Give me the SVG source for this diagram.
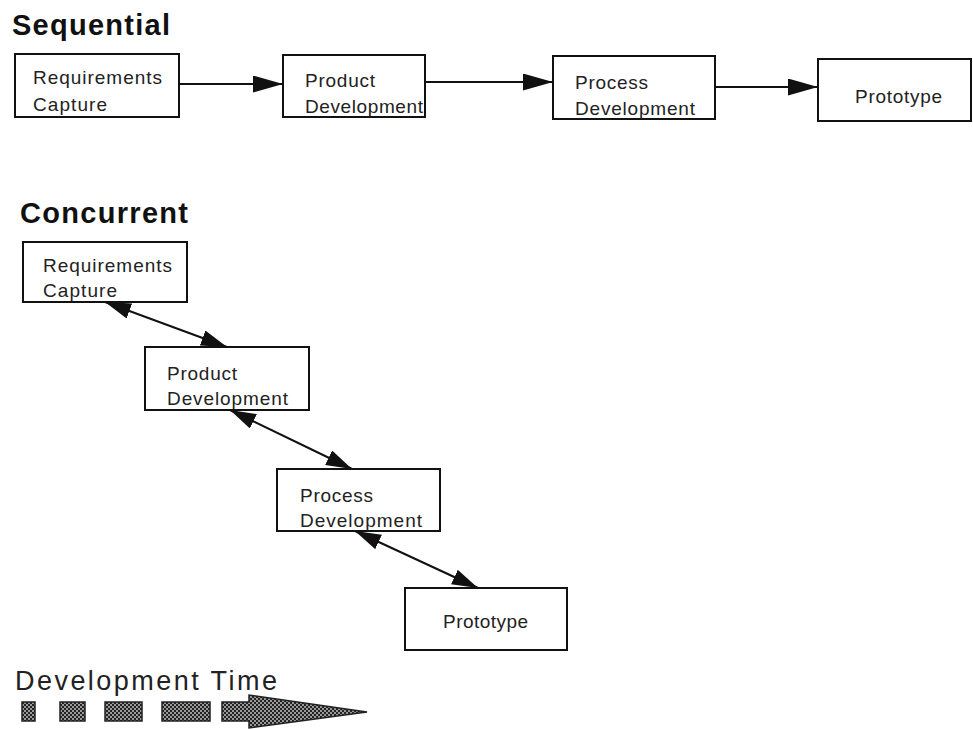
<svg xmlns="http://www.w3.org/2000/svg" width="973" height="729" viewBox="0 0 973 729">
<style>
.box{fill:#fff;stroke:#111;stroke-width:2}
.t{font-family:"Liberation Sans",Arial,sans-serif;font-size:19px;fill:#222}
.h{font-family:"Liberation Sans",Arial,sans-serif;font-size:29px;font-weight:bold;fill:#111}
.dt{font-family:"Liberation Sans",Arial,sans-serif;font-size:27px;fill:#222}
.ln{stroke:#111;stroke-width:2;fill:none}
.seq{marker-end:url(#ah)}
.con{marker-start:url(#ah2);marker-end:url(#ah2)}
.bar{fill:url(#hatch);stroke:#222;stroke-width:1.5}
</style>
<defs>
<marker id="ah" markerUnits="userSpaceOnUse" viewBox="0 0 30 17" refX="30" refY="8.5" markerWidth="30" markerHeight="17" orient="auto">
<path d="M0,0 L30,8.5 L0,17 z" fill="#111"/>
</marker>
<marker id="ah2" markerUnits="userSpaceOnUse" viewBox="0 0 26 16" refX="26" refY="8" markerWidth="26" markerHeight="16" orient="auto-start-reverse">
<path d="M0,0 L26,8 L0,16 z" fill="#111"/>
</marker>
<pattern id="hatch" patternUnits="userSpaceOnUse" width="4" height="4">
<rect width="4" height="4" fill="#999"/>
<rect x="0" y="0" width="2" height="2" fill="#222"/>
<rect x="2" y="2" width="2" height="2" fill="#222"/>
</pattern>
</defs>

<text class="h" x="12" y="35" textLength="158" lengthAdjust="spacing">Sequential</text>
<text class="h" x="20" y="223" textLength="168" lengthAdjust="spacing">Concurrent</text>

<g id="connectors">
<line class="ln seq" x1="179" y1="84" x2="283" y2="84"/>
<line class="ln seq" x1="425" y1="82" x2="553" y2="82"/>
<line class="ln seq" x1="715" y1="87" x2="818" y2="87"/>
<line class="ln con" x1="105" y1="302" x2="227" y2="347"/>
<line class="ln con" x1="230" y1="410" x2="352" y2="469"/>
<line class="ln con" x1="355" y1="531" x2="478" y2="588"/>
</g>

<g id="seq-req">
<rect class="box" x="15" y="54" width="164" height="63"/>
<text class="t" x="33" y="84" textLength="129" lengthAdjust="spacing">Requirements</text>
<text class="t" x="33" y="111" textLength="74" lengthAdjust="spacing">Capture</text>
</g>
<g id="seq-product">
<rect class="box" x="283" y="55" width="142" height="62"/>
<text class="t" x="305" y="87" textLength="70" lengthAdjust="spacing">Product</text>
<text class="t" x="305" y="113" textLength="118" lengthAdjust="spacing">Development</text>
</g>
<g id="seq-process">
<rect class="box" x="553" y="56" width="162" height="63"/>
<text class="t" x="575" y="89" textLength="73" lengthAdjust="spacing">Process</text>
<text class="t" x="575" y="115" textLength="120" lengthAdjust="spacing">Development</text>
</g>
<g id="seq-prototype">
<rect class="box" x="818" y="59" width="153" height="62"/>
<text class="t" x="855" y="103" textLength="87" lengthAdjust="spacing">Prototype</text>
</g>

<g id="con-req">
<rect class="box" x="23" y="242" width="164" height="60"/>
<text class="t" x="43" y="272" textLength="129" lengthAdjust="spacing">Requirements</text>
<text class="t" x="43" y="297" textLength="74" lengthAdjust="spacing">Capture</text>
</g>
<g id="con-product">
<rect class="box" x="145" y="347" width="164" height="63"/>
<text class="t" x="167" y="380" textLength="70" lengthAdjust="spacing">Product</text>
<text class="t" x="167" y="405" textLength="121" lengthAdjust="spacing">Development</text>
</g>
<g id="con-process">
<rect class="box" x="277" y="469" width="163" height="62"/>
<text class="t" x="300" y="502" textLength="73" lengthAdjust="spacing">Process</text>
<text class="t" x="300" y="527" textLength="122" lengthAdjust="spacing">Development</text>
</g>
<g id="con-prototype">
<rect class="box" x="405" y="588" width="162" height="62"/>
<text class="t" x="443" y="628" textLength="85" lengthAdjust="spacing">Prototype</text>
</g>

<g id="timeline">
<text class="dt" x="15" y="690" textLength="262" lengthAdjust="spacing">Development Time</text>
<rect class="bar" x="22" y="702" width="13" height="19"/>
<rect class="bar" x="60" y="702" width="25" height="19"/>
<rect class="bar" x="105" y="702" width="37" height="19"/>
<rect class="bar" x="162" y="702" width="48" height="19"/>
<path class="bar" d="M222,702 L249,702 L249,695 L367,712 L249,728 L249,721 L222,721 z"/>
</g>
</svg>
